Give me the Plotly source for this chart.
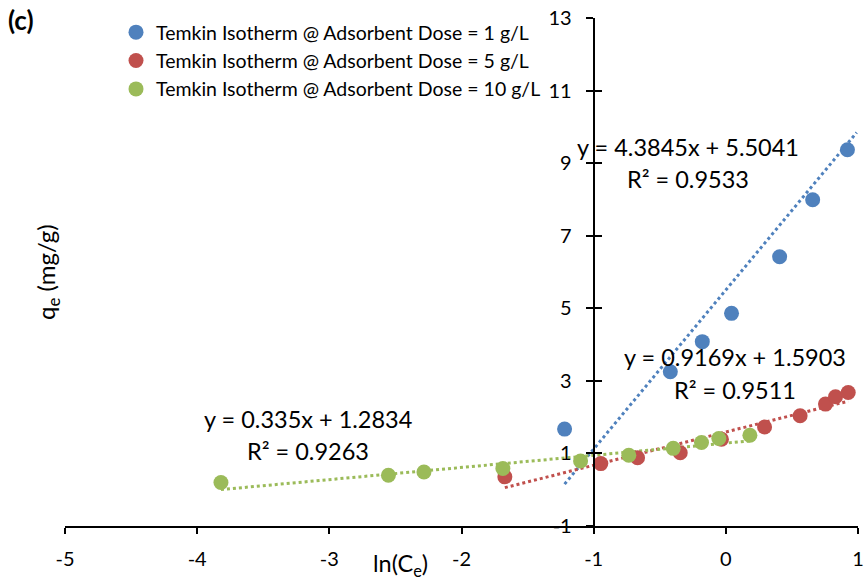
import plotly.graph_objects as go

# Temkin isotherm data: ln(Ce) vs qe for three adsorbent doses
dose_names = [
    "Temkin Isotherm @ Adsorbent Dose = 1 g/L",
    "Temkin Isotherm @ Adsorbent Dose = 5 g/L",
    "Temkin Isotherm @ Adsorbent Dose = 10 g/L",
]
colors = ["#4F81BD", "#C0504D", "#9BBB59"]

ln_ce_1 = [-1.22, -0.42, -0.178, 0.043, 0.407, 0.657, 0.92]
qe_1 = [1.67, 3.25, 4.08, 4.86, 6.42, 7.99, 9.37]

ln_ce_5 = [-1.672, -0.946, -0.668, -0.345, -0.033, 0.293, 0.562, 0.754, 0.83, 0.926]
qe_5 = [0.355, 0.72, 0.88, 1.02, 1.39, 1.73, 2.04, 2.36, 2.56, 2.68]

ln_ce_10 = [-3.82, -2.553, -2.284, -1.687, -1.099, -0.734, -0.398, -0.184, -0.053, 0.182]
qe_10 = [0.20, 0.40, 0.49, 0.586, 0.79, 0.95, 1.14, 1.30, 1.41, 1.50]

# Linear fits (slope, intercept, R²) and the x-span each trendline covers
slopes = [4.3845, 0.9169, 0.335]
intercepts = [5.5041, 1.5903, 1.2834]
r2_values = [0.9533, 0.9511, 0.9263]
trend_spans = [(-1.22, 0.99), (-1.672, 0.926), (-3.82, 0.19)]

# Equation label anchors (data coordinates)
eq_pos = [(-0.29, 9.45, 8.56), (0.066, 3.66, 2.75), (-3.162, 1.95, 1.06)]

x_ticks = [-5, -4, -3, -2, -1, 0, 1]
x_tick_text = ["-5", "-4", "-3", "-2", "-1", "0", "1"]
y_ticks = [-1, 1, 3, 5, 7, 9, 11, 13]
y_tick_text = ["-1", "1", "3", "5", "7", "9", "11", "13"]

FONT = "Lato"
fig = go.Figure()

xs_all = [ln_ce_1, ln_ce_5, ln_ce_10]
ys_all = [qe_1, qe_5, qe_10]

# trendlines
for i in range(3):
    x0, x1 = trend_spans[i]
    fig.add_trace(go.Scatter(
        x=[x0, x1],
        y=[slopes[i] * x0 + intercepts[i], slopes[i] * x1 + intercepts[i]],
        mode="lines", line=dict(color=colors[i], width=3, dash="dot"),
        showlegend=False, hoverinfo="skip",
    ))

# data points
for i in range(3):
    fig.add_trace(go.Scatter(
        x=xs_all[i], y=ys_all[i], mode="markers", name=dose_names[i],
        marker=dict(color=colors[i], size=15),
    ))

# invisible trace to carry the inner half of the y-axis tick crosses
fig.add_trace(go.Scatter(x=[None], y=[None], yaxis="y2", showlegend=False))

for i in range(3):
    x, ye, yr = eq_pos[i]
    fig.add_annotation(x=x, y=ye, text=f"y = {slopes[i]}x + {intercepts[i]}",
                       showarrow=False, font=dict(size=23.5, color="black", family=FONT))
    fig.add_annotation(x=x, y=yr, text=f"R² = {r2_values[i]}",
                       showarrow=False, font=dict(size=23.5, color="black", family=FONT))

fig.add_annotation(xref="paper", yref="paper", x=(21 - 65) / 793, y=1 + (18 - 20) / 508,
                   xanchor="center", yanchor="middle",
                   text="<b>(c)</b>", showarrow=False, font=dict(size=26, color="black", family=FONT))
fig.add_annotation(xref="paper", yref="paper", x=(400 - 65) / 793, y=-(565 - 526) / 508,
                   xanchor="center", yanchor="middle", text="ln(C<sub>e</sub>)", showarrow=False,
                   font=dict(size=23.5, color="black", family=FONT))
fig.add_annotation(xref="paper", yref="paper", x=(47 - 65) / 793, y=(526 - 272) / 508, textangle=-90,
                   xanchor="center", yanchor="middle", text="q<sub>e</sub> (mg/g)", showarrow=False,
                   font=dict(size=24, color="black", family=FONT))

axis_font = dict(size=20, color="black", family=FONT)
fig.update_layout(
    width=867, height=581,
    margin=dict(l=65, r=9, t=18, b=55, autoexpand=False),
    paper_bgcolor="white", plot_bgcolor="white",
    font=dict(family=FONT, color="black"),
    xaxis=dict(range=[-5, 1], tickvals=x_ticks, ticktext=x_tick_text,
               showgrid=False, zeroline=False, automargin=False,
               showline=True, linecolor="black", linewidth=2,
               ticks="outside", ticklen=6, tickwidth=2, tickcolor="black",
               tickfont=axis_font, ticklabelstandoff=8),
    yaxis=dict(range=[-1, 13], tickvals=y_ticks, ticktext=y_tick_text,
               showgrid=False, zeroline=False, automargin=False,
               anchor="free", position=4 / 6,
               showline=True, linecolor="black", linewidth=2,
               ticks="outside", ticklen=7, tickwidth=2, tickcolor="black",
               tickfont=axis_font, ticklabelstandoff=10),
    yaxis2=dict(range=[-1, 13], tickvals=y_ticks, showgrid=False, zeroline=False,
                overlaying="y", anchor="free", position=4 / 6, automargin=False,
                showline=False, showticklabels=False,
                ticks="inside", ticklen=7, tickwidth=2, tickcolor="black"),
    legend=dict(x=(116 - 65) / 793, y=1 + 5 / 508, xanchor="left", yanchor="top",
                bgcolor="rgba(0,0,0,0)", font=dict(size=19.5, color="black", family=FONT),
                tracegroupgap=0, itemwidth=30),
    showlegend=True,
)

fig.write_html("out.html")
